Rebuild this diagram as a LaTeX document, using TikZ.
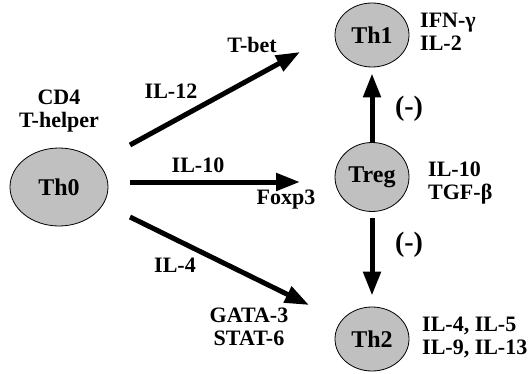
\documentclass[tikz,border=0pt]{standalone}
\usepackage{fontspec}
\setmainfont{Liberation Serif}[BoldFont={Liberation Serif Bold}]
\usetikzlibrary{arrows.meta,shapes.geometric}
\definecolor{cellgray}{RGB}{192,192,192}
\tikzset{
  cell/.style={ellipse,draw=black,line width=0.8pt,fill=cellgray,inner sep=0pt,
    font=\fontsize{24}{26}\selectfont\bfseries},
  lbl/.style={font=\fontsize{22}{23}\selectfont\bfseries,inner sep=0pt,align=center},
  lbll/.style={font=\fontsize{22}{23}\selectfont\bfseries,inner sep=0pt,align=left,anchor=west},
  neglbl/.style={font=\fontsize{28}{30}\selectfont\bfseries,inner sep=0pt},
  bigarrow/.style={line width=5pt,-{Triangle[length=24pt,width=17pt]}},
}
\begin{document}
\begin{tikzpicture}[x=1pt,y=-1pt]
\useasboundingbox (0,0) rectangle (529,374);
% cells
\node[cell,minimum width=98pt,minimum height=78pt] (th0) at (59,187) {Th0};
\node[cell,minimum width=74pt,minimum height=64pt] (th1) at (372,35) {Th1};
\node[cell,minimum width=74pt,minimum height=69pt] (treg) at (372,177) {Treg};
\node[cell,minimum width=74pt,minimum height=64pt] (th2) at (372,339) {Th2};
% labels
\node[lbl] (cd4) at (59,111) {CD4\\T-helper};
\node[lbll] (th1c) at (420,32) {IFN-γ\\IL-2};
\node[lbll] (tregc) at (428,183) {IL-10\\TGF-β};
\node[lbll] (th2c) at (422,337) {IL-4, IL-5\\IL-9, IL-13};
\node[lbl] (il12) at (171,91) {IL-12};
\node[lbl] (tbet) at (252,45) {T-bet};
\node[lbl] (il10) at (198,165) {IL-10};
\node[lbl] (foxp3) at (286,200) {Foxp3};
\node[lbl] (il4) at (175,265) {IL-4};
\node[lbl] (gata) at (249,327) {GATA-3\\STAT-6};
\node[neglbl] (neg1) at (409,109) {(-)};
\node[neglbl] (neg2) at (409,245) {(-)};
% arrow ends
\coordinate (s1) at (130,145);
\coordinate (e1) at (300,52);
\coordinate (s2) at (130,182);
\coordinate (e2) at (300,182);
\coordinate (s3) at (130,217);
\coordinate (e3) at (309,305);
\draw[bigarrow] (s1) -- (e1);
\draw[bigarrow] (s2) -- (e2);
\draw[bigarrow] (s3) -- (e3);
\draw[bigarrow,shorten >=6pt] (treg.north) -- (th1.south);
\draw[bigarrow,shorten <=6pt,shorten >=11pt] (treg.south) -- (th2.north);
\end{tikzpicture}
\end{document}
